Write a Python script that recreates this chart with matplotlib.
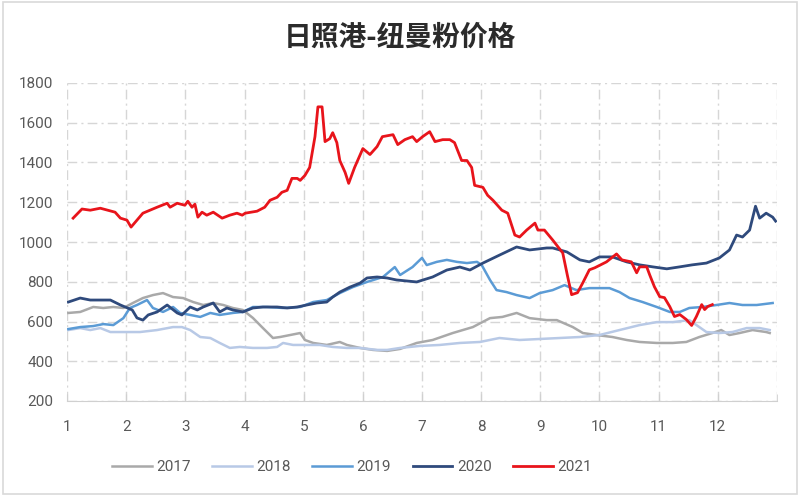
# 日照港-纽曼粉价格 (2017-2021), month of year on the x axis
import matplotlib
matplotlib.use('Agg')
import matplotlib.pyplot as plt
from matplotlib.patches import Rectangle

plt.rcParams['font.family'] = ['Noto Sans CJK SC', 'DejaVu Sans']

# --- data (x = month position, y = price) ---
m17 = [1.02, 1.22, 1.44, 1.61, 1.78, 1.95, 2.11, 2.28, 2.45, 2.62,
       2.79, 2.96, 3.13, 3.30, 3.47, 3.64, 3.80, 3.97, 4.14, 4.31,
       4.48, 4.60, 4.77, 4.94, 5.02, 5.16, 5.39, 5.61, 5.73, 5.95,
       6.17, 6.41, 6.63, 6.91, 7.18, 7.52, 7.86, 8.15, 8.36, 8.60,
       8.82, 9.11, 9.28, 9.55, 9.72, 9.95, 10.22, 10.46, 10.68, 10.97,
       11.24, 11.47, 11.69, 11.91, 12.06, 12.20, 12.37, 12.59, 12.82, 12.88]
v17 = [643, 648, 673, 668, 673, 668, 693, 718, 733, 743,
       723, 718, 698, 683, 693, 683, 668, 658, 618, 567,
       517, 522, 532, 542, 507, 492, 482, 497, 482, 467,
       457, 452, 462, 492, 507, 542, 572, 617, 623, 643,
       617, 607, 607, 572, 542, 532, 522, 507, 497, 492,
       492, 497, 522, 542, 557, 532, 542, 557, 547, 542]

m18 = [1.02, 1.22, 1.39, 1.56, 1.73, 1.95, 2.23, 2.52, 2.79, 2.94,
       3.08, 3.25, 3.42, 3.58, 3.75, 3.92, 4.14, 4.38, 4.55, 4.65,
       4.82, 5.05, 5.27, 5.49, 5.73, 5.95, 6.24, 6.41, 6.63, 6.96,
       7.30, 7.64, 7.98, 8.31, 8.65, 8.99, 9.33, 9.67, 10.00, 10.34,
       10.68, 10.97, 11.24, 11.52, 11.69, 11.81, 12.03, 12.25, 12.49, 12.71,
       12.88]
v18 = [557, 567, 557, 567, 547, 547, 547, 557, 572, 572,
       557, 522, 517, 492, 467, 472, 467, 467, 472, 492,
       482, 482, 482, 472, 467, 467, 457, 457, 467, 477,
       482, 492, 497, 517, 507, 512, 517, 522, 532, 557,
       582, 597, 597, 607, 572, 547, 542, 547, 567, 567,
       557]

m19 = [1.02, 1.22, 1.44, 1.61, 1.78, 1.95, 2.06, 2.18, 2.35, 2.45,
       2.62, 2.79, 2.91, 3.08, 3.25, 3.42, 3.58, 3.80, 3.97, 4.14,
       4.38, 4.65, 4.94, 5.16, 5.39, 5.61, 5.83, 6.07, 6.34, 6.54,
       6.63, 6.84, 7.00, 7.08, 7.25, 7.42, 7.59, 7.76, 7.93, 8.01,
       8.15, 8.26, 8.43, 8.60, 8.82, 8.99, 9.21, 9.41, 9.61, 9.83,
       10.17, 10.34, 10.51, 10.73, 10.97, 11.19, 11.36, 11.52, 11.74, 11.98,
       12.20, 12.42, 12.66, 12.93]
v19 = [562, 572, 577, 587, 582, 617, 668, 683, 708, 668,
       648, 673, 643, 633, 623, 643, 633, 643, 648, 673,
       673, 668, 673, 698, 708, 743, 773, 799, 824, 874,
       834, 874, 920, 884, 900, 910, 900, 894, 900, 884,
       809, 758, 748, 733, 718, 743, 758, 783, 758, 768,
       768, 748, 718, 698, 673, 648, 648, 668, 673, 683,
       693, 683, 683, 693]

m20 = [1.02, 1.22, 1.39, 1.56, 1.73, 1.90, 2.10, 2.18, 2.28, 2.37,
       2.52, 2.69, 2.86, 2.94, 3.08, 3.20, 3.30, 3.47, 3.58, 3.70,
       3.80, 3.97, 4.14, 4.31, 4.55, 4.72, 4.89, 5.05, 5.22, 5.39,
       5.49, 5.61, 5.78, 5.95, 6.07, 6.24, 6.41, 6.57, 6.91, 7.18,
       7.42, 7.64, 7.81, 8.03, 8.31, 8.60, 8.82, 9.11, 9.21, 9.45,
       9.67, 9.83, 10.00, 10.22, 10.46, 10.68, 10.90, 11.14, 11.36, 11.57,
       11.81, 12.03, 12.20, 12.32, 12.42, 12.54, 12.64, 12.71, 12.82, 12.93,
       12.98]
v20 = [698, 718, 708, 708, 708, 683, 658, 618, 607, 633,
       648, 683, 643, 633, 673, 658, 673, 693, 648, 668,
       658, 648, 668, 673, 673, 668, 673, 683, 693, 698,
       723, 748, 773, 793, 819, 824, 819, 809, 799, 824,
       859, 874, 859, 894, 934, 975, 960, 970, 970, 950,
       910, 900, 925, 925, 900, 885, 875, 865, 875, 885,
       894, 920, 960, 1035, 1025, 1060, 1180, 1120, 1145, 1125,
       1105]

m21 = [1.10, 1.25, 1.39, 1.56, 1.81, 1.90, 2.01, 2.08, 2.18, 2.28,
       2.52, 2.69, 2.74, 2.86, 2.99, 3.04, 3.11, 3.16, 3.21, 3.28,
       3.36, 3.47, 3.62, 3.75, 3.87, 3.96, 4.01, 4.21, 4.34, 4.43,
       4.55, 4.63, 4.72, 4.80, 4.89, 4.94, 5.02, 5.10, 5.19, 5.24,
       5.31, 5.36, 5.44, 5.49, 5.56, 5.61, 5.70, 5.76, 5.86, 6.00,
       6.12, 6.24, 6.33, 6.51, 6.59, 6.71, 6.84, 6.91, 7.01, 7.13,
       7.22, 7.35, 7.47, 7.55, 7.67, 7.76, 7.84, 7.89, 8.03, 8.11,
       8.20, 8.35, 8.45, 8.57, 8.65, 8.77, 8.91, 8.96, 9.07, 9.21,
       9.38, 9.46, 9.53, 9.63, 9.72, 9.83, 9.92, 10.12, 10.29, 10.38,
       10.54, 10.63, 10.68, 10.80, 10.85, 10.93, 11.02, 11.10, 11.19, 11.27,
       11.36, 11.47, 11.56, 11.64, 11.73, 11.78, 11.83, 11.91]
v21 = [1120, 1166, 1160, 1170, 1150, 1120, 1110, 1075, 1110, 1145,
       1175, 1195, 1175, 1195, 1185, 1205, 1175, 1190, 1125, 1150,
       1135, 1150, 1120, 1135, 1145, 1135, 1145, 1155, 1175, 1210,
       1225, 1250, 1260, 1320, 1320, 1310, 1335, 1375, 1530, 1680,
       1680, 1505, 1520, 1550, 1500, 1410, 1350, 1295, 1375, 1470,
       1440, 1480, 1530, 1540, 1490, 1515, 1530, 1505, 1530, 1555,
       1505, 1515, 1515, 1500, 1410, 1410, 1375, 1285, 1275, 1235,
       1210, 1160, 1145, 1035, 1025, 1060, 1095, 1060, 1060, 1010,
       945, 830, 735, 745, 795, 860, 870, 900, 940, 910,
       900, 845, 875, 875, 835, 775, 725, 720, 675, 625,
       635, 610, 580, 625, 685, 660, 675, 685]

series_labels = ['2017', '2018', '2019', '2020', '2021']
month_ticks = list(range(1, 13))
price_ticks = list(range(200, 2000, 200))

colors = ['#A9A9A9', '#B8C9E6', '#5B9BD5', '#2F4A7C', '#E8141B']
widths = [1.8, 1.8, 1.8, 2.0, 2.0]

fig = plt.figure(figsize=(8, 5), dpi=100)
ax = fig.add_axes([0.084, 0.198, 0.887, 0.636])

data = [(m17, v17), (m18, v18), (m19, v19), (m20, v20), (m21, v21)]
for (xs, ys), lab, c, w in zip(data, series_labels, colors, widths):
    ax.plot(xs, ys, color=c, linewidth=w, label=lab, solid_joinstyle='round')

ax.set_xlim(1, 13)
ax.set_ylim(200, 1800)
ax.set_xticks(month_ticks)
ax.set_yticks(price_ticks)
ax.set_xticks([13], minor=True)

grid_style = dict(color='#D6D6D6', linewidth=1.0, linestyle=(0, (7, 3, 1.5, 3)))
ax.grid(True, which='major', **grid_style)
ax.grid(True, which='minor', axis='x', **grid_style)
ax.set_axisbelow(True)

for side in ['top', 'right', 'left']:
    ax.spines[side].set_visible(False)
ax.spines['bottom'].set_color('#D0D0D0')
ax.tick_params(axis='y', length=0, colors='#595959', labelsize=11, pad=10)
ax.tick_params(axis='x', which='major', direction='in', length=5, color='#D0D0D0',
               labelcolor='#595959', labelsize=11, pad=14)
ax.tick_params(axis='x', which='minor', direction='in', length=5, color='#D0D0D0')
for lbl in ax.get_xticklabels() + ax.get_yticklabels():
    lbl.set_family(['Roboto', 'DejaVu Sans'])

fig.text(0.5, 0.925, '日照港-纽曼粉价格', ha='center', va='center',
         fontsize=20, fontweight='bold', color='#2B2B2B')

leg = fig.legend(loc='center', bbox_to_anchor=(0.44, 0.066), ncol=5, frameon=False,
                 handlelength=2.6, columnspacing=1.4, handletextpad=0.3,
                 prop={'family': ['Roboto', 'DejaVu Sans'], 'size': 11})
for t in leg.get_texts():
    t.set_color('#595959')

# light frame around the whole chart
fig.add_artist(Rectangle((0.004, 0.012), 0.992, 0.984, transform=fig.transFigure,
                         fill=False, edgecolor='#D9D9D9', linewidth=1.2))

fig.savefig('out.png', dpi=100, facecolor='white')
